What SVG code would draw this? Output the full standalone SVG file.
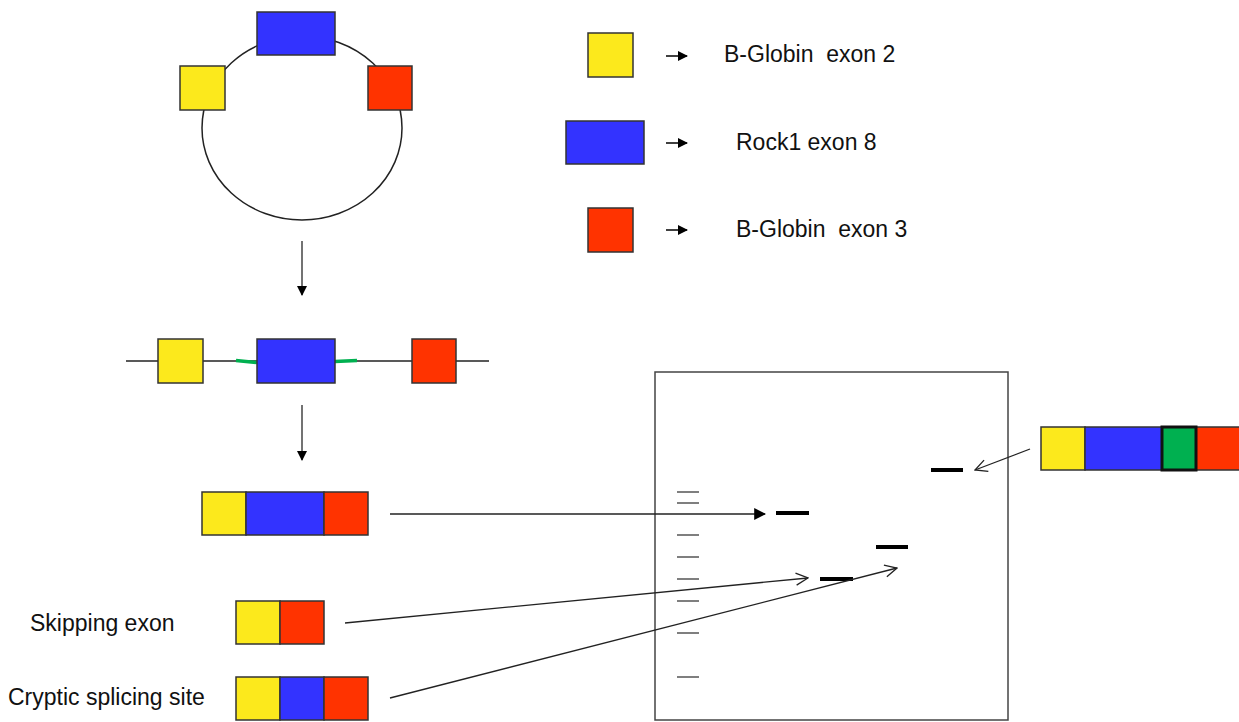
<svg xmlns="http://www.w3.org/2000/svg" width="1239" height="722" viewBox="0 0 1239 722">
  <style>
    .y { fill: #fce91c; }
    .b { fill: #3333ff; }
    .r { fill: #ff3300; }
    .g { fill: #00b050; }
    .ex { stroke: #333; stroke-width: 1.5; }
    .ln { fill: none; stroke: #222; stroke-width: 1.5; }
    .lbl { font-family: "Liberation Sans", Arial, sans-serif; font-size: 23px; fill: #111; }
    .tick { stroke: #555; stroke-width: 1.5; }
    .band { stroke: #000; stroke-width: 4; }
  </style>
  <defs>
    <marker id="solid" viewBox="0 0 10 10" refX="9" refY="5" markerWidth="10" markerHeight="10" markerUnits="userSpaceOnUse" orient="auto">
      <path d="M0,0 L10,5 L0,10 Z" fill="#000"/>
    </marker>
    <marker id="big" viewBox="0 0 10 10" refX="9" refY="5" markerWidth="12" markerHeight="12" markerUnits="userSpaceOnUse" orient="auto">
      <path d="M0,0 L10,5 L0,10 Z" fill="#000"/>
    </marker>
    <marker id="open" viewBox="0 0 14 14" refX="13" refY="7" markerWidth="14" markerHeight="14" markerUnits="userSpaceOnUse" orient="auto">
      <path d="M1,1 L13,7 L1,13" fill="none" stroke="#222" stroke-width="1.3"/>
    </marker>
  </defs>

  <!-- plasmid -->
  <g id="plasmid">
    <ellipse cx="302" cy="128" rx="100" ry="92" class="ln"/>
    <rect x="257" y="12" width="78" height="43" class="b ex"/>
    <rect x="180" y="66" width="45" height="44" class="y ex"/>
    <rect x="368" y="66" width="44" height="44" class="r ex"/>
  </g>

  <!-- legend -->
  <g id="legend-exon2">
    <rect x="588" y="33" width="45" height="44" class="y ex"/>
    <text x="724" y="62" class="lbl" xml:space="preserve">B-Globin  exon 2</text>
  </g>
  <g id="legend-rock1">
    <rect x="566" y="121" width="78" height="43" class="b ex"/>
    <text x="736" y="150" class="lbl">Rock1 exon 8</text>
  </g>
  <g id="legend-exon3">
    <rect x="588" y="208" width="45" height="44" class="r ex"/>
    <text x="736" y="237" class="lbl" xml:space="preserve">B-Globin  exon 3</text>
  </g>

  <!-- linear construct -->
  <g id="construct">
    <line x1="126" y1="361" x2="489" y2="361" class="ln"/>
    <path d="M236,360.5 L257,362.5 M335,361.5 L357,360.5" stroke="#00b050" stroke-width="3.5" fill="none"/>
    <rect x="158" y="339" width="45" height="44" class="y ex"/>
    <rect x="257" y="339" width="78" height="44" class="b ex"/>
    <rect x="412" y="339" width="44" height="44" class="r ex"/>
  </g>

  <!-- spliced transcripts -->
  <g id="full-transcript">
    <rect x="202" y="492" width="44" height="43" class="y ex"/>
    <rect x="246" y="492" width="78" height="43" class="b ex"/>
    <rect x="324" y="492" width="44" height="43" class="r ex"/>
  </g>
  <g id="skipping">
    <text x="30" y="631" class="lbl">Skipping exon</text>
    <rect x="236" y="601" width="44" height="43" class="y ex"/>
    <rect x="280" y="601" width="44" height="43" class="r ex"/>
  </g>
  <g id="cryptic">
    <text x="8" y="705" class="lbl">Cryptic splicing site</text>
    <rect x="236" y="677" width="44" height="43" class="y ex"/>
    <rect x="280" y="677" width="44" height="43" class="b ex"/>
    <rect x="324" y="677" width="44" height="43" class="r ex"/>
  </g>
  <g id="green-insert">
    <rect x="1041" y="427" width="44" height="43" class="y ex"/>
    <rect x="1085" y="427" width="77" height="43" class="b ex"/>
    <rect x="1196" y="427" width="44" height="43" class="r ex"/>
    <rect x="1162" y="427" width="34" height="43" class="g" stroke="#111" stroke-width="3"/>
  </g>

  <!-- gel -->
  <g id="gel">
    <rect x="655" y="372" width="353" height="348" fill="none" stroke="#444" stroke-width="1.5"/>
    <g class="tick">
      <line x1="677" y1="492" x2="699" y2="492"/>
      <line x1="677" y1="503" x2="699" y2="503"/>
      <line x1="677" y1="535" x2="699" y2="535"/>
      <line x1="677" y1="557" x2="699" y2="557"/>
      <line x1="677" y1="579" x2="699" y2="579"/>
      <line x1="677" y1="601" x2="699" y2="601"/>
      <line x1="677" y1="633" x2="699" y2="633"/>
      <line x1="677" y1="677" x2="699" y2="677"/>
    </g>
    <g class="band">
      <line x1="776" y1="513" x2="809" y2="513"/>
      <line x1="876" y1="547" x2="908" y2="547"/>
      <line x1="820" y1="579" x2="853" y2="579"/>
      <line x1="931" y1="470" x2="963" y2="470"/>
    </g>
  </g>

  <!-- connectors -->
  <g id="connectors">
    <line x1="302" y1="241" x2="302" y2="295" stroke="#444" stroke-width="1.5" marker-end="url(#solid)"/>
    <line x1="302" y1="405" x2="302" y2="460" stroke="#444" stroke-width="1.5" marker-end="url(#solid)"/>
    <line x1="666" y1="56" x2="687" y2="56" stroke="#000" stroke-width="1.5" marker-end="url(#solid)"/>
    <line x1="666" y1="143" x2="687" y2="143" stroke="#000" stroke-width="1.5" marker-end="url(#solid)"/>
    <line x1="666" y1="230" x2="687" y2="230" stroke="#000" stroke-width="1.5" marker-end="url(#solid)"/>
    <line x1="390" y1="514" x2="765" y2="514" stroke="#222" stroke-width="1.3" marker-end="url(#big)"/>
    <line x1="345" y1="623" x2="808" y2="578" stroke="#222" stroke-width="1.3" marker-end="url(#open)"/>
    <line x1="390" y1="698" x2="897" y2="568" stroke="#222" stroke-width="1.3" marker-end="url(#open)"/>
    <line x1="1030" y1="449" x2="975" y2="470" stroke="#222" stroke-width="1.3" marker-end="url(#open)"/>
  </g>
</svg>
